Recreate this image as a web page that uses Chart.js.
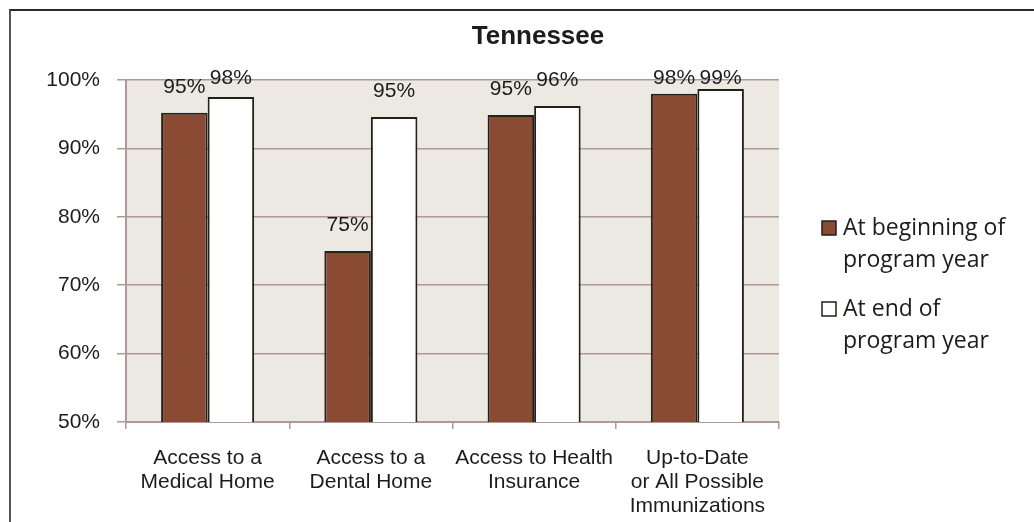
<!DOCTYPE html>
<html>
<head>
<meta charset="utf-8">
<script src="https://cdn.jsdelivr.net/npm/chart.js@4/dist/chart.umd.min.js"></script>
<style>
  html, body { margin: 0; padding: 0; background: #fff; overflow: hidden; }
  #frame { position: absolute; left: 9px; top: 9px; width: 1200px; height: 700px;
           border-top: 2px solid #2b2b2b; border-left: 2px solid #555; }
  #chart { position: absolute; left: 0; top: 0; }
</style>
</head>
<body>
<div id="frame"></div>
<canvas id="chart" width="1034" height="522"></canvas>
<script>
const categories = [
  ["Access to a", "Medical Home"],
  ["Access to a", "Dental Home"],
  ["Access to Health", "Insurance"],
  ["Up-to-Date", "or All Possible", "Immunizations"]
];
const beginValues = [95.2, 75.0, 94.9, 98.0];
const endValues = [97.5, 94.6, 96.2, 98.7];
const seriesNames = [["At beginning of", "program year"], ["At end of", "program year"]];
const yTicks = [50, 60, 70, 80, 90, 100];

const gridColor = "#b09898";
const textColor = "#1c1c1c";

const plotBackground = {
  id: "plotBackground",
  beforeDraw(chart) {
    const {ctx, chartArea: a} = chart;
    ctx.save();
    ctx.fillStyle = "#ece9e2";
    ctx.fillRect(a.left, a.top, a.right - a.left, a.bottom - a.top);
    ctx.restore();
  }
};

const titleText = {
  id: "titleText",
  afterDraw(chart) {
    const ctx = chart.ctx;
    ctx.save();
    ctx.font = "bold 26px 'Liberation Sans', Arial, sans-serif";
    ctx.fillStyle = textColor;
    ctx.textAlign = "center";
    ctx.textBaseline = "middle";
    ctx.fillText("Tennessee", 538, 37);
    ctx.restore();
  }
};

const valueLabels = {
  id: "valueLabels",
  afterDatasetsDraw(chart) {
    const ctx = chart.ctx;
    ctx.save();
    ctx.font = "21px 'Liberation Sans', Arial, sans-serif";
    ctx.fillStyle = textColor;
    ctx.textAlign = "center";
    ctx.textBaseline = "middle";
    chart.data.datasets.forEach((ds, i) => {
      chart.getDatasetMeta(i).data.forEach((bar, j) => {
        const y = Math.max(bar.y - 26, 78);
        ctx.fillText(Math.round(ds.data[j]) + "%", bar.x, y);
      });
    });
    ctx.restore();
  }
};

const sideLegend = {
  id: "sideLegend",
  afterDraw(chart) {
    const ctx = chart.ctx;
    ctx.save();
    ctx.font = "23px 'Open Sans', 'Noto Sans', sans-serif";
    ctx.textBaseline = "alphabetic";
    ctx.textAlign = "left";
    const tops = [221, 302];
    chart.data.datasets.forEach((ds, i) => {
      const t = tops[i];
      ctx.fillStyle = ds.backgroundColor;
      ctx.fillRect(822, t, 14, 14);
      ctx.strokeStyle = "#231f1a";
      ctx.lineWidth = 1.5;
      ctx.strokeRect(822, t, 14, 14);
      ctx.fillStyle = textColor;
      ds.label.forEach((line, k) => {
        ctx.fillText(line, 843, t + 14 + k * 32);
      });
    });
    ctx.restore();
  }
};

new Chart(document.getElementById("chart"), {
  type: "bar",
  data: {
    labels: categories,
    datasets: [
      {
        label: seriesNames[0],
        data: beginValues,
        backgroundColor: "#8a4a33",
        borderColor: "#231f1a",
        borderWidth: 2,
        categoryPercentage: 0.57,
        barPercentage: 1
      },
      {
        label: seriesNames[1],
        data: endValues,
        backgroundColor: "#ffffff",
        borderColor: "#231f1a",
        borderWidth: 2,
        categoryPercentage: 0.57,
        barPercentage: 1
      }
    ]
  },
  options: {
    responsive: false,
    animation: false,
    devicePixelRatio: 1,
    layout: { padding: { left: 0, right: 255, top: 80, bottom: 0 } },
    plugins: {
      legend: { display: false },
      title: { display: false },
      tooltip: { enabled: false }
    },
    scales: {
      x: {
        grid: { drawOnChartArea: false, drawTicks: true, tickLength: 7, color: gridColor, lineWidth: 1.5 },
        border: { color: gridColor, width: 2 },
        ticks: {
          color: textColor,
          padding: 17,
          maxRotation: 0,
          autoSkip: false,
          font: { family: "'Liberation Sans', Arial, sans-serif", size: 21, lineHeight: 1.15 }
        },
        afterFit(scale) { scale.height = 100; }
      },
      y: {
        min: 50,
        max: 100,
        afterBuildTicks(scale) { scale.ticks = yTicks.map(v => ({ value: v })); },
        grid: { color: gridColor, lineWidth: 1.5, tickLength: 9 },
        border: { color: gridColor, width: 2 },
        ticks: {
          color: textColor,
          padding: 17,
          font: { family: "'Liberation Sans', Arial, sans-serif", size: 21 },
          callback: v => v + "%"
        },
        afterFit(scale) { scale.width = 126; }
      }
    }
  },
  plugins: [plotBackground, valueLabels, titleText, sideLegend]
});
</script>
</body>
</html>
